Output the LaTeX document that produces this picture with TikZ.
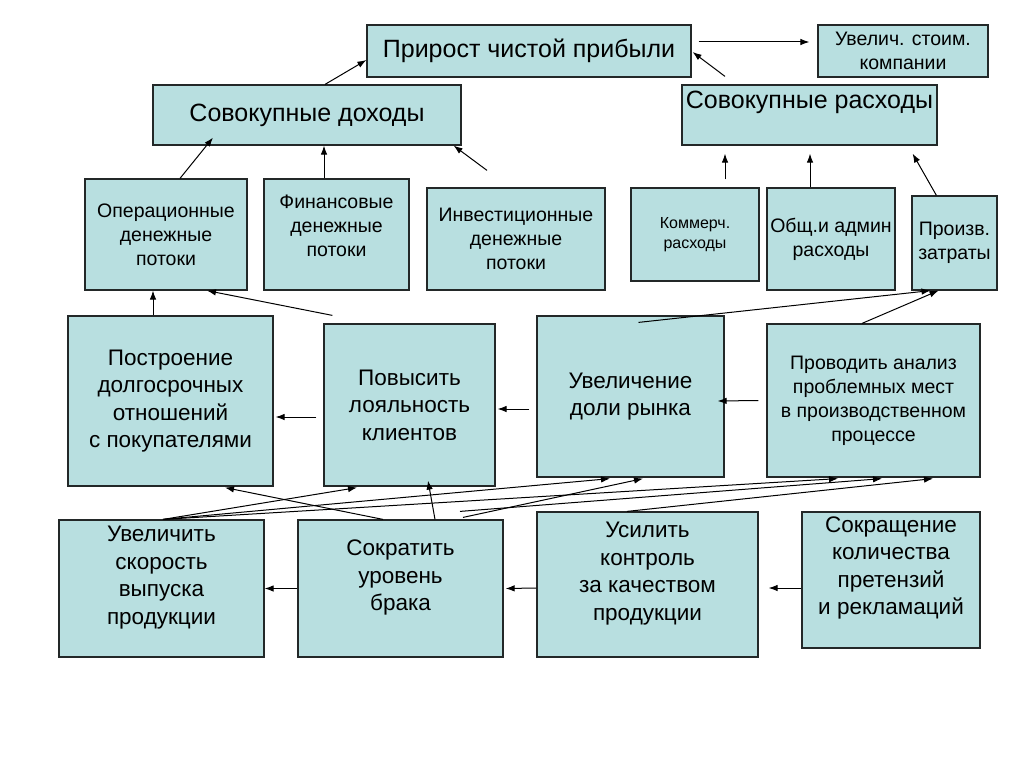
\documentclass[tikz,border=0pt]{standalone}
\usepackage{fontspec}
\setmainfont{Liberation Sans}
\usetikzlibrary{arrows.meta}
\usetikzlibrary{calc}
\definecolor{boxfill}{RGB}{184,223,224}
\definecolor{boxline}{RGB}{35,40,40}
\tikzset{
    box/.style={draw=boxline,fill=boxfill,line width=1.2pt,inner sep=0pt,align=center},
    txt/.style={align=center,inner sep=0pt},
    txtbig/.style={font=\fontsize{25}{30}\selectfont},
    txtmid/.style={font=\fontsize{22.5}{27.5}\selectfont},
    txtsmall/.style={font=\fontsize{19.5}{24}\selectfont},
    txttiny/.style={font=\fontsize{16}{20}\selectfont},
}

\begin{document}
\begin{tikzpicture}[x=1pt,y=-1pt,>={Latex[length=9pt,width=6.5pt]},line width=1pt]
\useasboundingbox[fill=white] (0,0) rectangle (1024,768);
% top row
\node[box,txtbig,minimum width=324,minimum height=52] (prirost) at (529,51) {Прирост чистой прибыли};
\node[box,txtsmall,minimum width=170,minimum height=52] (stoim) at (903,51) {Увелич. стоим.\\компании};
\node[box,txtbig,minimum width=308,minimum height=60] (dohody) at (307,115) {Совокупные доходы};
\node[box,minimum width=255,minimum height=60] (rashody) at (809.5,115) {};
\node[txt,txtbig] (rashodyt) at ([yshift=13]rashody.center) {Совокупные расходы};
% flows and costs
\node[box,txtsmall,minimum width=162,minimum height=111] (oper) at (166,234.5) {Операционные\\денежные\\потоки};
\node[box,minimum width=145,minimum height=111] (fin) at (336.5,234.5) {};
\node[txt,txtsmall] (fint) at ([yshift=9]fin.center) {Финансовые\\денежные\\потоки};
\node[box,txtsmall,minimum width=178,minimum height=102] (invest) at (516,239) {Инвестиционные\\денежные\\потоки};
\node[box,txttiny,minimum width=128,minimum height=93] (kommerch) at (695,234.5) {Коммерч.\\расходы};
\node[box,txtsmall,minimum width=128,minimum height=102] (obsch) at (831,239) {Общ.и админ\\расходы};
\node[box,txtsmall,minimum width=85,minimum height=94] (proizv) at (954.5,243) {Произв.\\затраты};
% middle row
\node[box,txtmid,minimum width=205,minimum height=170] (postr) at (170.5,401) {Построение\\долгосрочных\\отношений\\с покупателями};
\node[box,txtmid,minimum width=171,minimum height=162] (loyal) at (409.5,405) {Повысить\\лояльность\\клиентов};
\node[box,txtmid,minimum width=187,minimum height=161] (dolya) at (630.5,396.5) {Увеличение\\доли рынка};
\node[box,txtsmall,minimum width=213,minimum height=153] (analiz) at (873.5,400.5) {Проводить анализ\\проблемных мест\\в производственном\\процессе};
% bottom row
\node[box,minimum width=205,minimum height=137] (skor) at (161.5,588.5) {};
\node[txt,txtmid] (skort) at ([yshift=11]skor.center) {Увеличить\\скорость\\выпуска\\продукции};
\node[box,minimum width=205,minimum height=137] (brak) at (400.5,588.5) {};
\node[txt,txtmid] (brakt) at ([yshift=11]brak.center) {Сократить\\уровень\\брака};
\node[box,minimum width=221,minimum height=145] (kontrol) at (647.5,584.5) {};
\node[txt,txtmid] (kontrolt) at ([yshift=11]kontrol.center) {Усилить\\контроль\\за качеством\\продукции};
\node[box,minimum width=178,minimum height=136] (pretenz) at (891,580) {};
\node[txt,txtmid] (pretenzt) at ([yshift=12]pretenz.center) {Сокращение\\количества\\претензий\\и рекламаций};
% arrows up to the profit
\draw[->] ($(prirost.east)+(7,-9)$) -- ($(stoim.west)+(-8,-9)$);
\draw[->] ($(dohody.north)+(18,0)$) -- ($(prirost.west)+(0,9)$);
\draw[->] ($(rashody.north)+(-84.5,-8)$) -- ($(prirost.east)+(1,1)$);
\draw[->] ($(oper.north)+(14,0)$) -- ($(dohody.south)+(-94,-8)$);
\draw[->] ($(fin.north)+(-12.5,0)$) -- ($(dohody.south)+(17,0)$);
\draw[->] ($(invest.north)+(-29,-17)$) -- ($(dohody.south east)+(-8,0)$);
\draw[->] ($(kommerch.north)+(30,-8)$) -- ($(rashody.south)+(-84.5,8)$);
\draw[->] ($(obsch.north)+(-21,0)$) -- ($(rashody.south)+(0.5,8)$);
\draw[->] ($(proizv.north west)+(25,0)$) -- ($(rashody.south east)+(-25,8)$);
% middle row to flows and costs
\draw[->] ($(postr.north)+(-17.5,0)$) -- ($(oper.south)+(-13,0)$);
\draw[->] ($(loyal.north west)+(9,-8)$) -- ($(oper.south)+(41,0)$);
\draw[->] ($(dolya.north)+(8,7)$) -- ($(proizv.south)+(-24,0)$);
\draw[->] ($(analiz.north)+(-11.5,0)$) -- ($(proizv.south)+(-16,0)$);
% along the rows
\draw[->] ($(loyal.west)+(-7,12)$) -- ($(postr.east)+(2,16)$);
\draw[->] ($(dolya.west)+(-7,12.5)$) -- ($(loyal.east)+(2,4)$);
\draw[->] ($(analiz.west)+(-8,0)$) -- ($(dolya.east)+(-7,4.5)$);
\draw[->] (brak.west) -- (skor.east);
\draw[->] ($(kontrol.west)+(0,3.5)$) -- ($(brak.east)+(2,0)$);
\draw[->] ($(pretenz.west)+(0,8)$) -- ($(kontrol.east)+(10,3.5)$);
% bottom row up to the middle row
\draw[->] ($(brak.north)+(-17.5,0)$) -- ($(postr.south)+(54.5,1)$);
\draw[->] ($(skor.north)+(1.5,0)$) -- ($(loyal.south)+(-52.5,1)$);
\draw[->] ($(brak.north)+(34.5,0)$) -- ($(loyal.south)+(18.5,-6)$);
\draw[->] ($(skor.north)+(1.5,0)$) -- ($(dolya.south)+(-20.5,1)$);
\draw[->] ($(brak.north)+(62.5,-2)$) -- ($(dolya.south)+(12.5,1)$);
\draw[->] ($(skor.north)+(1.5,0)$) -- ($(analiz.south)+(-35.5,1)$);
\draw[->] ($(brak.north)+(59.5,-8)$) -- ($(analiz.south)+(8.5,1)$);
\draw[->] ($(kontrol.north)+(-20.5,0)$) -- ($(analiz.south)+(59.5,1)$);
\end{tikzpicture}
\end{document}
